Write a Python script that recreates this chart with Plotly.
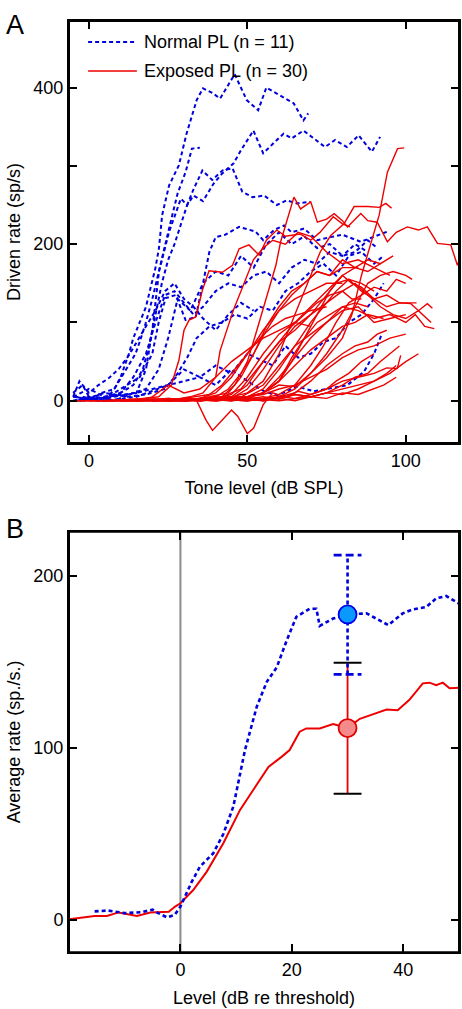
import plotly.graph_objects as go

# ---------------- Panel A data: driven rate vs tone level ----------------
normal_curves = [
    ([-5,-2,0,3,6,8,10,12.6,14,16.3,18,19.5,21,22.1,23.1,25.3,28.4,30.8,34,36,39,41.4,46,49.8,53.4,56,61.4,64.6,67.7,69.2],
     [10,20,5,0,5,15,30,60,80,103,120,145,170,195,237,275,301,341,384,399,393,386,417,384,371,400,388,380,358,367]),
    ([-4,0,4,8,11,14.7,16,17.9,20,22.1,23.7,26.3,28,30.5,32.5,35],
     [5,0,10,15,35,60,75,99,130,167,195,237,265,292,322,323]),
    ([-5,0,5,10,14,17,19,21,23,25,27,29,31,33,36,39.3,42,45.6,48,51.9,55,58,61.4,64,67.7,71,74.5,77.7,81.4,85.1,89.3,91.9],
     [0,5,0,10,20,40,70,110,150,180,200,225,250,262,255,277,290,303,320,345,316,328,341,335,345,335,324,333,324,339,318,337]),
    ([-3,2,8,15,18,20,22.1,25.3,27,29,31,33,35.8,38.9,42.1,45.3,48.4,51.6,55.3,59.3,62.4,65.6,69.8],
     [0,3,5,10,40,90,165,216,235,258,250,270,294,282,294,297,267,260,262,250,256,252,254]),
    ([-2,3,8,12,16,20,22,24.2,27.4,30.5,33.7,36,38,40,43,47.4,52.6,55,58.4,61.6,64,67.9,72,76.3,80,85.8,90,94.2],
     [5,0,10,20,30,60,100,131,135,103,107,150,190,209,212,222,216,205,218,224,215,220,205,209,212,203,210,216]),
    ([-4,2,8,14,18,22,25,28,32,36,40,44,48,52,56,60,64,68,72,76,80,84,88,91],
     [0,5,0,10,15,40,80,130,115,150,165,160,185,170,200,215,200,210,195,200,185,190,205,195]),
    ([-3,5,12,18,24,28,31,34,38,42,46,50,54,58,62,66,70,74,78,82,86,90,93],
     [0,10,5,8,15,35,55,80,95,100,110,105,120,115,140,150,165,175,160,185,190,175,185]),
    ([-5,5,15,25,30,35,40,45,50,55,58,62,66,70,74,78,82,86,90,93],
     [5,0,5,20,40,30,45,35,60,50,45,70,55,60,75,80,100,110,130,150]),
    ([-2,5,15,25,35,40,45,50,55.3,59.5,65.8,71,76.3,81.6,86.8,90,92.5],
     [0,5,10,20,30,20,40,25,12,7,18,12,16,20,37,60,86]),
    ([-5,-3,0,3,6.3,9.5,12.6,15,18,21,24,27,30,33,36,40,44,48,52],
     [5,25,10,20,29,41,58,75,95,115,140,150,130,120,105,90,110,125,115]),
    ([-5,0,5,10,14,18,21,24,27,30,33,36,40,44,48,52,56,60,64,68,72,76,80,84,88],
     [5,15,5,10,30,60,100,135,140,125,110,120,140,150,145,160,165,150,170,180,175,190,185,200,190]),
]

exposed_curves = [
    ([10,20,30,40,50,55,60,65,70,75,80,83,86,89,91.6,94.2,96,97.4,99.5],
     [0,2,0,3,5,10,20,18,35,55,80,110,160,200,237,292,310,322,323]),
    ([20,30,40,45,50,55,60,65,70,73,76.3,80.5,83.7,88,91.6,93.7,95.5],
     [0,0,2,5,10,25,60,110,160,190,211,226,248,248,247,252,246]),
    ([15,25,35,42,46,50,53,56,59,60.5,64.7,66.8,70,72.1,75,77.4,80,81.6,85.8,88,91,94.2,97,100.5,104,106.8,110,114.2,116.3,118],
     [0,2,0,5,20,50,90,130,173,203,260,245,254,228,232,239,230,222,239,230,228,203,215,222,218,222,201,199,173,192]),
    ([-5,5,15,22,26,28.4,30,31.6,33.7,35.8,37.9,42.1,45.3,47.4,50.5,53.7,56,59.3,62,66.6,70,72.9,77.1,80,82.4],
     [0,0,2,5,20,52,90,103,107,141,166,164,173,194,199,186,205,218,210,213,205,215,235,226,222]),
    ([-5,5,15,25,30,34,37,39,42,45,47,50,52,55,58,62,66,70,75,80,85,90,94,97.3,98.4],
     [0,0,2,0,0,0,-25,-38,-25,-12,-20,-42,-35,-5,10,5,12,8,15,25,30,35,42,41,58]),
    ([5,15,25,35,40,45,50,55,60,65,70,75,80,83,86,90,94,98,101.6,104,106.8,108.4],
     [0,0,3,0,2,8,30,60,85,100,120,140,160,150,145,130,120,125,124,115,124,118]),
    ([10,20,30,40,50,55,60,65,70,75,80,85,90,95,100,103,106,109],
     [0,2,0,3,5,10,30,55,80,100,120,115,105,110,100,110,95,92]),
    ([0,10,20,30,40,45,50,55,60,65,70,75,80,84,88,92,96,100,104,108],
     [0,0,2,0,5,3,15,40,70,95,110,125,140,150,135,120,110,105,115,100]),
    ([15,25,35,45,50,55,60,65,70,74,78,82,86,90,94,98,103.4],
     [0,3,0,5,20,50,75,90,110,130,150,155,140,130,135,125,125]),
    ([20,30,40,50,55,60,65,70,75,80,84,88,92,95,98],
     [0,2,0,5,0,3,8,5,10,20,30,35,50,60,70]),
    ([25,35,45,55,60,65,70,75,80,85,90,94,97],
     [0,3,0,5,2,8,5,10,15,20,25,35,45]),
    ([10,20,30,40,48,55,60,65,70,75,80,85,90,95,100],
     [0,0,3,2,5,20,45,70,85,100,115,120,100,105,110]),
    ([5,15,25,32,36,40,41.4,45.6,48,51.9,55,58,62,66,70,75,80,85,90,95],
     [0,2,0,5,10,30,64,116,140,180,195,205,200,215,210,190,175,180,170,160]),
    ([20,30,38,44,48,52,56,60,64,68,72,76,80,84,88,92],
     [0,0,5,10,30,60,95,120,140,150,165,160,180,170,165,175]),
    ([25,35,45,50,55,60,65,70,74,78,82,86,90],
     [0,2,0,5,15,40,70,100,120,140,155,150,140]),
    ([30,40,45,50,55,60,64,68,72,76,80,84,88],
     [0,3,0,5,10,25,55,80,100,110,120,125,120]),
    ([20,30,40,50,55,60,65,70,75,80,84,88,91,94],
     [0,2,0,3,0,5,10,25,45,60,70,75,85,90]),
    ([30,40,50,55,60,65,70,74,78,82,86,90,94,97,100],
     [0,2,0,3,8,20,45,70,100,125,135,145,140,155,150]),
    ([15,25,35,40,44,48,52,56,60,64,68,72,76,80,85],
     [0,0,2,5,15,35,60,90,115,135,150,165,160,170,170]),
    ([35,45,50,55,60,64,68,72,76,80,84,88,92,96],
     [0,2,5,10,25,50,80,110,140,160,170,180,175,185]),
    ([25,35,40,45,50,55,60,65,70,75,80],
     [0,3,10,30,60,90,115,130,140,150,150]),
    ([30,40,50,60,65,70,75,78,82,86,90],
     [0,2,0,5,3,8,15,25,35,50,60]),
    ([40,50,60,70,75,80,85,90,93,97],
     [0,3,0,5,3,10,8,15,20,30]),
    ([20,30,40,50,55,60,65,70,75,80,85,90,95,100],
     [0,2,0,5,8,15,20,30,40,55,65,70,80,85]),
    ([25,35,45,50,55,60,65,70,75,80,84,88,93],
     [0,2,5,3,10,25,45,65,80,95,100,110,105]),
    ([15,25,35,42,48,52,56,60,64,68,72,76,80,83,86],
     [0,2,0,5,15,35,55,75,95,110,125,135,140,130,130]),
    ([10,20,30,38,42,46,50,54,58,62,66,70,75],
     [0,0,3,8,20,40,60,80,95,105,110,115,120]),
    ([35,45,55,60,65,70,75,80,84,88,92,96,100,102],
     [0,3,0,5,15,35,60,90,120,150,160,165,160,155]),
    ([5,15,20,25,30,35,40,45,50,55,60,65,70],
     [0,0,5,20,10,15,30,50,65,80,90,100,95]),
    ([30,40,50,60,65,70,75,80,85,90,95,100,104],
     [0,2,0,3,0,5,10,8,15,25,35,50,60]),
]

# ---------------- Panel B data: average rate vs level re threshold ----------------
normal_avg_x = [-15.4,-13,-10,-7,-5,-4,-2.4,-1,0,2,3.5,5.9,7.7,9.5,11.6,13.7,15.5,17.3,19.1,20.8,
                23.2,24.4,25,27.4,30,33.4,37.3,39.9,41.7,44.1,45.9,47.7,50]
normal_avg_y = [5,5.5,4,4.5,6,4,1.5,3,7.8,22,31,38.8,50,66,99,124,138.5,147,162.8,176.3,
                181,181,171,175.3,177.7,178.3,171.5,178.3,180.6,182,187,188.4,184]
exposed_avg_x = [-20,-15.4,-13.2,-11.1,-7.8,-5.4,-2.1,-0.95,0,2.3,4.7,7.7,10.7,13.4,15.8,18.2,19.6,21.4,
                 22.6,25,27.4,30,32.2,34,37,39,41.1,43.5,44.7,45.9,47.1,48.3,50]
exposed_avg_y = [0.4,2.3,2.3,4.4,2.3,4.4,4.8,7.8,9.7,17.4,28,44.6,64,77.5,89,95,98.8,109.5,
                 111.4,111.4,114,111.6,117,119,122.4,122,128,137.6,138,136.6,138,134.7,135]
summary_level = 30
normal_mean, normal_lo, normal_hi = 177.7, 142.8, 212.2
exposed_mean, exposed_lo, exposed_hi = 111.6, 73.4, 149.6
threshold_level = 0

# tick settings
a_xticks = [0, 50, 100]
a_yticks = [0, 100, 200, 300, 400]
a_ylabels = ["0", "", "200", "", "400"]
b_xticks = [0, 20, 40]
b_yticks = [0, 100, 200]

BLUE = "#0000DD"
RED = "#EE0000"
FONT = "Liberation Sans, Arial, Helvetica, sans-serif"
CAP = 2.5

fig = go.Figure()
for xs, ys in normal_curves:
    fig.add_trace(go.Scatter(x=xs, y=ys, mode="lines", xaxis="x", yaxis="y",
                             line=dict(color=BLUE, width=2, dash="4px,3px"), showlegend=False))
for xs, ys in exposed_curves:
    fig.add_trace(go.Scatter(x=xs, y=ys, mode="lines", xaxis="x", yaxis="y",
                             line=dict(color=RED, width=1.4), showlegend=False))

# panel B
fig.add_trace(go.Scatter(x=exposed_avg_x, y=exposed_avg_y, mode="lines", xaxis="x2", yaxis="y2",
                         line=dict(color=RED, width=2), showlegend=False))
fig.add_trace(go.Scatter(x=normal_avg_x, y=normal_avg_y, mode="lines", xaxis="x2", yaxis="y2",
                         line=dict(color=BLUE, width=2.6, dash="4px,3px"), showlegend=False))
# error bars
fig.add_trace(go.Scatter(x=[summary_level, summary_level], y=[exposed_lo, exposed_hi], mode="lines",
                         xaxis="x2", yaxis="y2", line=dict(color=RED, width=1.8), showlegend=False))
for v in (exposed_lo, exposed_hi):
    fig.add_trace(go.Scatter(x=[summary_level - CAP, summary_level + CAP], y=[v, v], mode="lines",
                             xaxis="x2", yaxis="y2", line=dict(color="black", width=2), showlegend=False))
fig.add_trace(go.Scatter(x=[summary_level, summary_level], y=[normal_lo, normal_hi], mode="lines",
                         xaxis="x2", yaxis="y2", line=dict(color=BLUE, width=2.6, dash="4px,3px"), showlegend=False))
for v in (normal_lo, normal_hi):
    fig.add_trace(go.Scatter(x=[summary_level - CAP, summary_level + CAP], y=[v, v], mode="lines",
                             xaxis="x2", yaxis="y2", line=dict(color=BLUE, width=2.6, dash="8px,4px"), showlegend=False))
fig.add_trace(go.Scatter(x=[summary_level], y=[exposed_mean], mode="markers", xaxis="x2", yaxis="y2",
                         marker=dict(size=18, color="#F58A8A", line=dict(color="#E00000", width=1.8)), showlegend=False))
fig.add_trace(go.Scatter(x=[summary_level], y=[normal_mean], mode="markers", xaxis="x2", yaxis="y2",
                         marker=dict(size=18, color="#0A99FF", line=dict(color="#0000EE", width=1.8)), showlegend=False))

axis_common = dict(showline=True, linecolor="black", linewidth=2, mirror=True, ticks="inside",
                   ticklen=8, tickwidth=2, tickcolor="black", showgrid=False, zeroline=False,
                   tickfont=dict(size=18, family=FONT, color="black"), fixedrange=True)
mirror_common = dict(showline=False, ticks="inside", ticklen=8, tickwidth=2, tickcolor="black",
                     showgrid=False, zeroline=False, showticklabels=False, fixedrange=True)

xdom = [69/462, 459/462]
ydomA = [1-443/1009, 1-21/1009]
ydomB = [1-952.3/1009, 1-531.7/1009]
xrA, yrA = [-6.3, 116.8], [-54, 485]
xrB, yrB = [-20, 50], [-18.8, 225.8]

fig.update_layout(
    width=462, height=1009, margin=dict(l=0, r=0, t=0, b=0),
    paper_bgcolor="white", plot_bgcolor="white", showlegend=False,
    font=dict(family=FONT, size=18, color="black"),
    xaxis=dict(axis_common, domain=xdom, range=xrA, tickvals=a_xticks, anchor="y",
               title=dict(text="Tone level (dB SPL)", font=dict(size=18, family=FONT), standoff=12)),
    yaxis=dict(axis_common, domain=ydomA, range=yrA, anchor="x",
               tickvals=a_yticks, ticktext=a_ylabels,
               title=dict(text="Driven rate (sp/s)", font=dict(size=18, family=FONT), standoff=8)),
    xaxis2=dict(axis_common, domain=xdom, range=xrB, tickvals=b_xticks, anchor="y2",
                title=dict(text="Level (dB re threshold)", font=dict(size=18, family=FONT), standoff=12)),
    yaxis2=dict(axis_common, domain=ydomB, range=yrB, anchor="x2",
                tickvals=b_yticks,
                title=dict(text="Average rate (sp./s.)", font=dict(size=18, family=FONT), standoff=8)),
    # mirrored tick axes (top / right)
    xaxis3=dict(mirror_common, overlaying="x", side="top", anchor="y", range=xrA, tickvals=a_xticks),
    yaxis3=dict(mirror_common, overlaying="y", side="right", anchor="x", range=yrA, tickvals=a_yticks),
    xaxis4=dict(mirror_common, overlaying="x2", side="top", anchor="y2", range=xrB, tickvals=b_xticks),
    yaxis4=dict(mirror_common, overlaying="y2", side="right", anchor="x2", range=yrB, tickvals=b_yticks),
)
# invisible helper traces so that the mirror axes are drawn
fig.add_trace(go.Scatter(x=[], y=[], xaxis="x3", yaxis="y3", showlegend=False, hoverinfo="skip"))
fig.add_trace(go.Scatter(x=[], y=[], xaxis="x4", yaxis="y4", showlegend=False, hoverinfo="skip"))

# gray threshold line in panel B
fig.add_shape(type="line", xref="x2", yref="y2 domain", x0=threshold_level, x1=threshold_level, y0=0, y1=1,
              line=dict(color="#8C8C8C", width=2), layer="below")

# frames
for xr_, yr_ in (("x domain", "y domain"), ("x2 domain", "y2 domain")):
    fig.add_shape(type="rect", xref=xr_, yref=yr_, x0=0, x1=1, y0=0, y1=1,
                  line=dict(color="black", width=2), fillcolor="rgba(0,0,0,0)", layer="above")

# manual legend in panel A
for i, (name, col, dash, w) in enumerate([("Normal PL (n = 11)", BLUE, "4px,3px", 2),
                                          ("Exposed PL (n = 30)", RED, "solid", 1.4)]):
    yy = [0.950, 0.8815][i]
    fig.add_shape(type="line", xref="x domain", yref="y domain", x0=0.049, x1=0.174, y0=yy, y1=yy,
                  line=dict(color=col, width=w, dash=dash))
    fig.add_annotation(xref="x domain", yref="y domain", x=0.188, y=yy, text=name, showarrow=False,
                       xanchor="left", yanchor="middle", font=dict(size=18, family=FONT, color="black"))

fig.add_annotation(xref="paper", yref="paper", x=4/462, y=1-8/1009, text="A", showarrow=False,
                   xanchor="left", yanchor="top", font=dict(size=27, family=FONT, color="black"))
fig.add_annotation(xref="paper", yref="paper", x=4/462, y=1-512/1009, text="B", showarrow=False,
                   xanchor="left", yanchor="top", font=dict(size=27, family=FONT, color="black"))

fig.write_html("out.html", config={"displayModeBar": False},
               post_script="document.body.style.margin='0';document.body.style.overflow='hidden';")
